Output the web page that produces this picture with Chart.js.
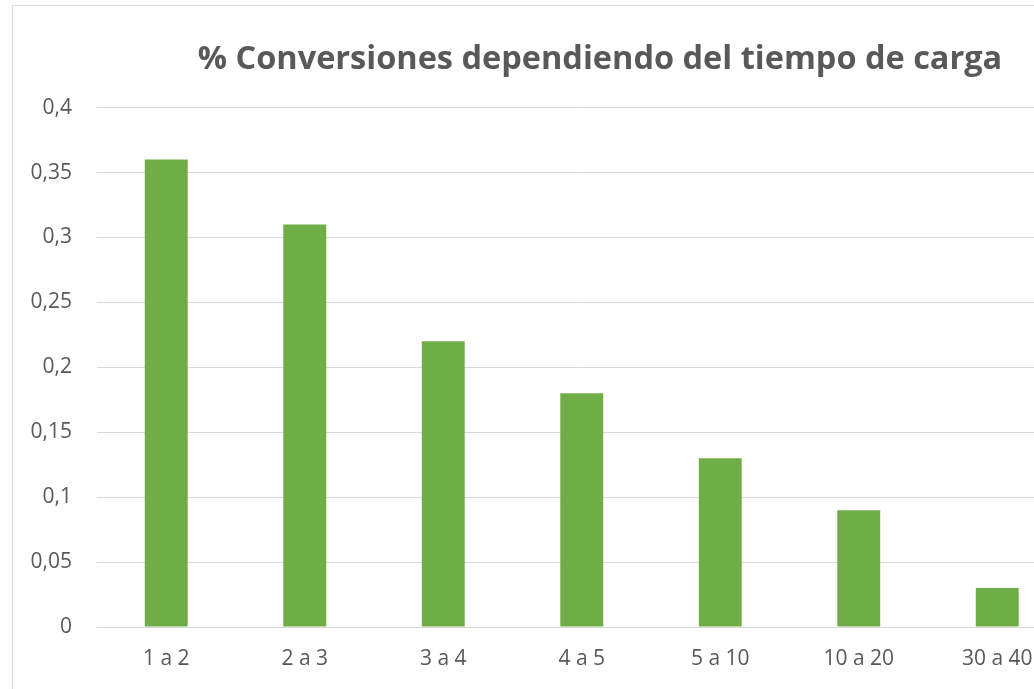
<!DOCTYPE html>
<html>
<head>
<meta charset="utf-8">
<script src="https://cdn.jsdelivr.net/npm/chart.js@4/dist/chart.umd.min.js"></script>
<style>
  html, body { margin: 0; padding: 0; background: #fff; overflow: hidden; width: 1034px; height: 689px; }
  #box { position: absolute; left: 12px; top: 5px; width: 1174px; height: 700px; border: 1px solid #d9d9d9; background: #fff; }
  canvas { display: block; }
</style>
</head>
<body>
<div id="box"><canvas id="c" width="1174" height="700"></canvas></div>
<script>
const categories = ["1 a 2", "2 a 3", "3 a 4", "4 a 5", "5 a 10", "10 a 20", "30 a 40"];
const conversions = [0.36, 0.31, 0.22, 0.18, 0.13, 0.09, 0.03];
const yTicks = [0, 0.05, 0.1, 0.15, 0.2, 0.25, 0.3, 0.35, 0.4];
const titleText = "% Conversiones dependiendo del tiempo de carga";

const fmt = v => (Math.round(v * 100) / 100).toString().replace('.', ',');

new Chart(document.getElementById('c'), {
  type: 'bar',
  data: {
    labels: categories,
    datasets: [{
      data: conversions,
      backgroundColor: '#70ad47',
      borderWidth: 0,
      barPercentage: 0.31,
      categoryPercentage: 1.0,
      yAxisID: 'y'
    }]
  },
  options: {
    responsive: false,
    animation: false,
    layout: { padding: 0 },
    plugins: {
      legend: { display: false },
      tooltip: { enabled: false },
      title: {
        display: true,
        text: titleText,
        color: '#595959',
        font: { family: "'Open Sans', sans-serif", size: 32.5, weight: 'bold' },
        padding: { top: 34, bottom: 28.6 }
      }
    },
    scales: {
      y: {
        position: 'left',
        min: 0, max: 0.4,
        afterBuildTicks: s => { s.ticks = yTicks.map(v => ({ value: v })); },
        afterFit: s => { s.width = 84; },
        border: { display: false },
        grid: { color: '#d9d9d9', drawTicks: false, lineWidth: 1 },
        ticks: {
          padding: 25,
          color: '#595959',
          font: { family: "'Open Sans', sans-serif", size: 21 },
          callback: v => fmt(v)
        }
      },
      yRight: {
        position: 'right',
        display: true,
        min: 0, max: 1,
        afterFit: s => { s.width = 120.5; },
        border: { display: false },
        grid: { display: false, drawTicks: false },
        ticks: { display: false }
      },
      x: {
        afterFit: s => { s.height = 79; },
        border: { display: false },
        grid: { display: false, drawTicks: false },
        ticks: {
          padding: 19,
          color: '#595959',
          font: { family: "'Open Sans', sans-serif", size: 21 },
          maxRotation: 0
        }
      }
    }
  }
});
</script>
</body>
</html>
